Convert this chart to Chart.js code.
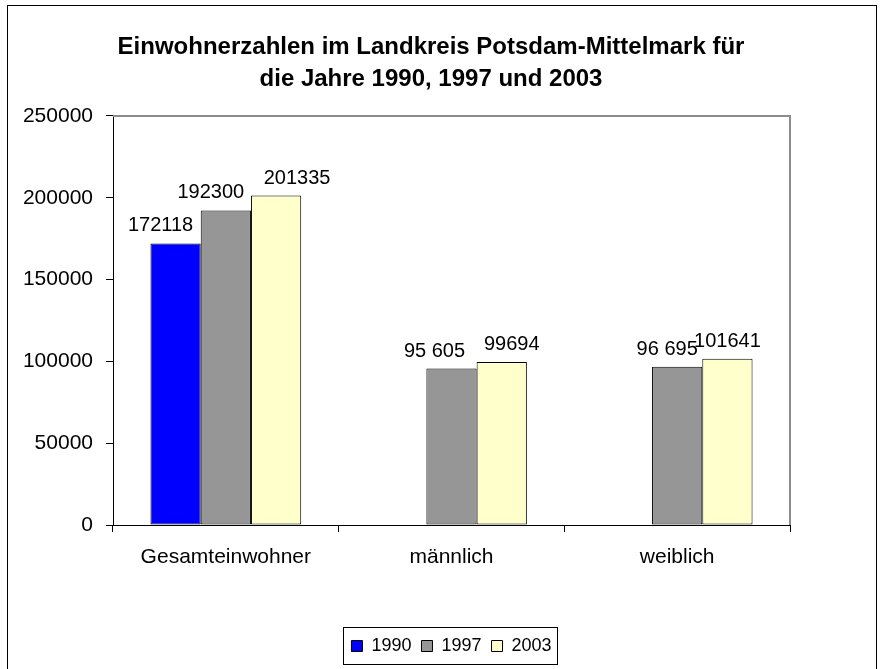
<!DOCTYPE html>
<html>
<head>
<meta charset="utf-8">
<script src="https://cdn.jsdelivr.net/npm/chart.js@4/dist/chart.umd.min.js"></script>
<style>
    html, body { margin: 0; padding: 0; background: #fff; }
    #frame {
        position: absolute; left: 7px; top: 5px;
        width: 870px; height: 680px;
        border: 1px solid #000;
        box-sizing: border-box;
    }
    #wrap { position: absolute; left: 0; top: 0; width: 881px; height: 669px; }
</style>
</head>
<body>
<div id="frame"></div>
<div id="wrap"><canvas id="chart" width="881" height="669"></canvas></div>
<script>
// Kategorien und Werte
const kategorien = ['Gesamteinwohner', 'männlich', 'weiblich'];
const jahre = ['1990', '1997', '2003'];

const werte1990 = [172118, null, null];
const werte1997 = [192300, 95605, 96695];
const werte2003 = [201335, 99694, 101641];

// Beschriftungen über den Säulen (so wie im Original geschrieben)
const text1990 = ['172118', '', ''];
const text1997 = ['192300', '95 605', '96 695'];
const text2003 = ['201335', '99694', '101641'];

const yTicks = [0, 50000, 100000, 150000, 200000, 250000];

const farben = ['#0000FF', '#969696', '#FFFFCC'];
const schrift = "'Liberation Sans', Arial, sans-serif";

// kleine Verschiebungen der Beschriftungen wie im Original
const labelShift = [[-15, 0, 0], [-15, -17, -10], [21, 10, 0]];

const wertLabels = {
    id: 'wertLabels',
    afterDatasetsDraw(chart) {
        const ctx = chart.ctx;
        const texte = [text1990, text1997, text2003];
        ctx.save();
        ctx.font = '20px ' + schrift;
        ctx.fillStyle = '#000';
        ctx.textAlign = 'center';
        ctx.textBaseline = 'alphabetic';
        chart.data.datasets.forEach((ds, i) => {
            const meta = chart.getDatasetMeta(i);
            meta.data.forEach((bar, j) => {
                if (ds.data[j] === null) return;
                ctx.fillText(texte[i][j], bar.x + labelShift[i][j], bar.y - 12);
            });
        });
        ctx.restore();
    }
};

const rahmen = {
    id: 'rahmen',
    beforeDatasetsDraw(chart) {
        const a = chart.chartArea;
        const ctx = chart.ctx;
        ctx.save();
        ctx.strokeStyle = '#8c8c8c';
        ctx.lineWidth = 2;
        ctx.beginPath();
        ctx.moveTo(a.left, a.top);
        ctx.lineTo(a.right, a.top);
        ctx.lineTo(a.right, a.bottom);
        ctx.stroke();
        ctx.restore();
    },
    afterDraw(chart) {
        // Kasten um die Legende
        const boxes = chart.legend.legendHitBoxes;
        if (!boxes || !boxes.length) return;
        let minX = Infinity, maxX = -Infinity, top = boxes[0].top, h = boxes[0].height;
        boxes.forEach(b => {
            minX = Math.min(minX, b.left);
            maxX = Math.max(maxX, b.left + b.width);
        });
        const ctx = chart.ctx;
        ctx.save();
        ctx.strokeStyle = '#000';
        ctx.lineWidth = 1;
        ctx.strokeRect(Math.round(minX - 8) + 0.5, Math.round(top - 10) + 0.5,
            Math.round(maxX - minX + 14), Math.round(h + 19));
        ctx.restore();
    }
};

const ctx = document.getElementById('chart');

new Chart(ctx, {
    type: 'bar',
    data: {
        labels: kategorien,
        datasets: [
            { label: jahre[0], data: werte1990, backgroundColor: farben[0] },
            { label: jahre[1], data: werte1997, backgroundColor: farben[1] },
            { label: jahre[2], data: werte2003, backgroundColor: farben[2] }
        ].map(d => Object.assign(d, {
            borderColor: '#000',
            borderWidth: 1,
            borderSkipped: false,
            categoryPercentage: 0.668,
            barPercentage: 1
        }))
    },
    plugins: [rahmen, wertLabels],
    options: {
        responsive: false,
        animation: false,
        devicePixelRatio: 1,
        layout: { padding: { left: 0, right: 19, top: 0, bottom: 4 } },
        scales: {
            x: {
                afterFit: (scale) => { scale.height = 102; },
                border: { color: '#000', width: 1 },
                grid: {
                    display: true,
                    drawOnChartArea: false,
                    color: '#000',
                    tickLength: 7,
                    offset: true
                },
                ticks: {
                    color: '#000',
                    font: { family: schrift, size: 21 },
                    padding: 13
                }
            },
            y: {
                min: 0,
                max: 250000,
                afterFit: (scale) => { scale.width = 113; },
                afterBuildTicks: (scale) => { scale.ticks = yTicks.map(v => ({ value: v })); },
                border: { color: '#000', width: 1 },
                grid: {
                    display: true,
                    drawOnChartArea: false,
                    color: '#000',
                    tickLength: 7
                },
                ticks: {
                    color: '#000',
                    font: { family: schrift, size: 21 },
                    padding: 13,
                    callback: (v) => String(v)
                }
            },
            // leerer Rand rechts, damit der Titel mittig sitzt
            rechts: {
                type: 'linear',
                position: 'right',
                afterFit: (scale) => { scale.width = 72; },
                grid: { display: false },
                border: { display: false },
                ticks: { display: false }
            }
        },
        plugins: {
            title: {
                display: true,
                text: ['Einwohnerzahlen im Landkreis Potsdam-Mittelmark für', 'die Jahre 1990, 1997 und 2003'],
                color: '#000',
                font: { family: schrift, size: 24, weight: 'bold', lineHeight: 1.333 },
                padding: { top: 31, bottom: 21 }
            },
            legend: {
                position: 'bottom',
                fullSize: false,
                labels: {
                    color: '#000',
                    font: { family: schrift, size: 18 },
                    boxWidth: 11,
                    boxHeight: 11,
                    padding: 10
                }
            },
            tooltip: { enabled: false }
        }
    }
});
</script>
</body>
</html>
